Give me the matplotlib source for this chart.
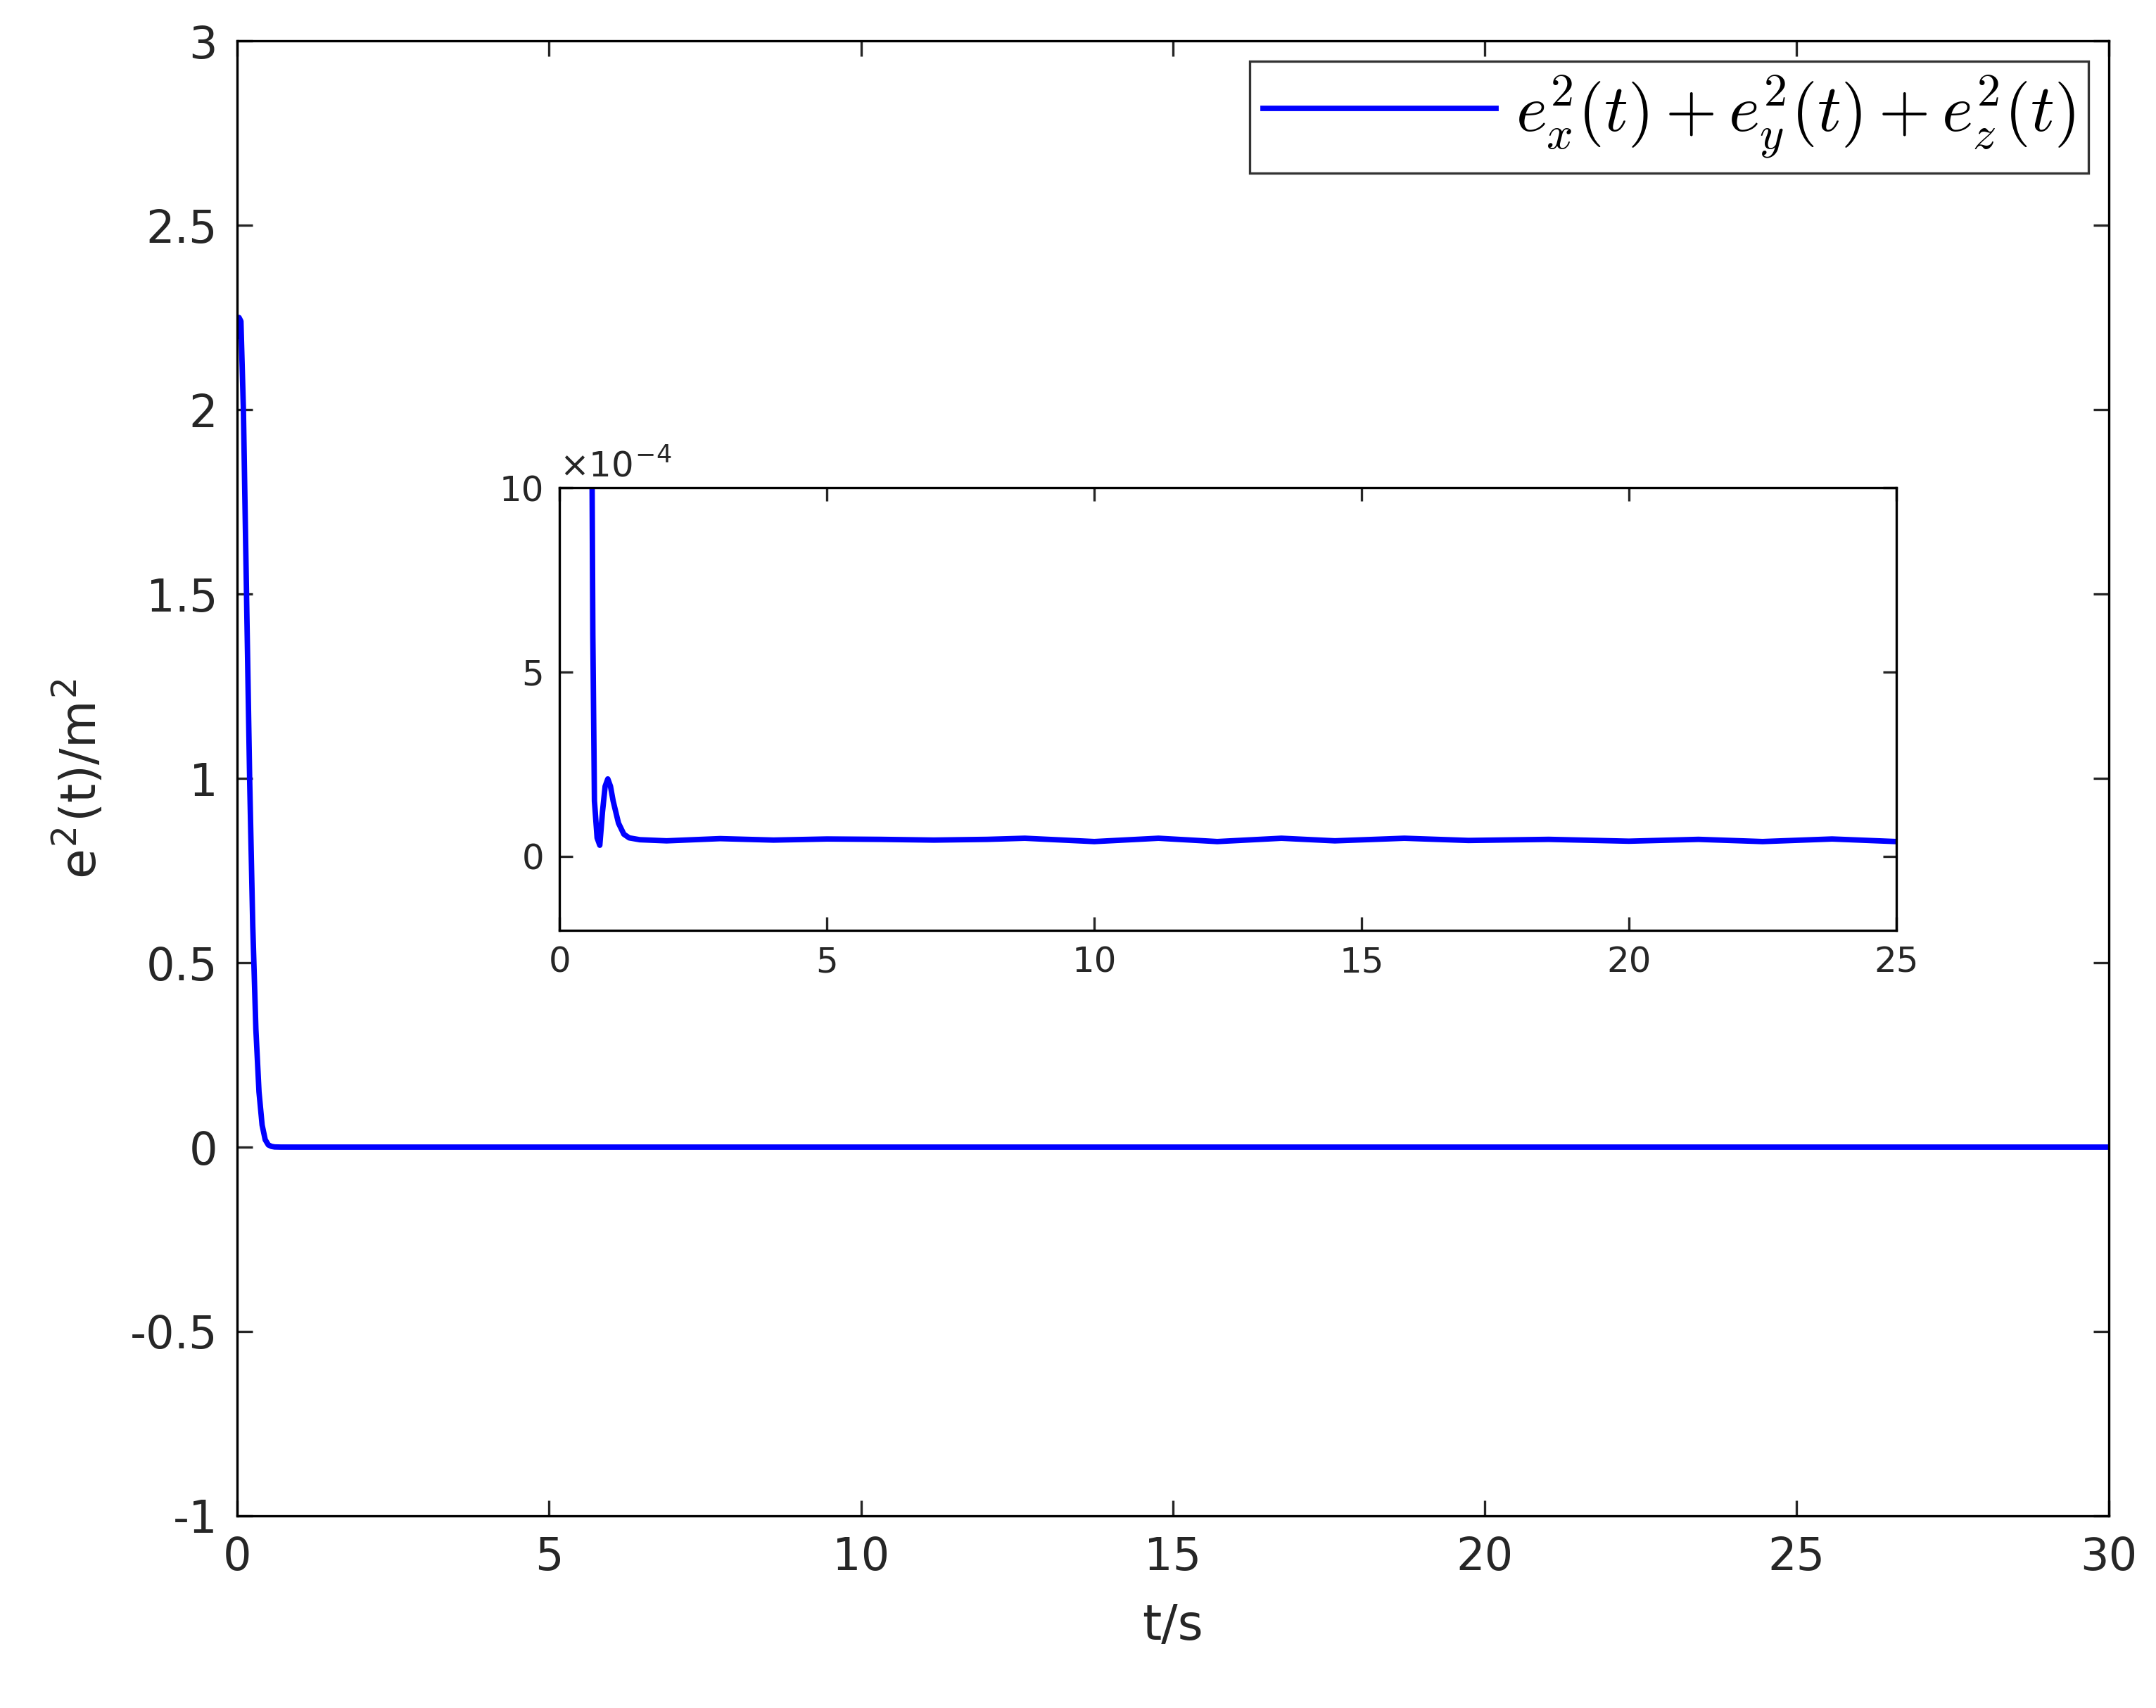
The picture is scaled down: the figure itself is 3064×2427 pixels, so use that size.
import numpy as np
import matplotlib
matplotlib.use("Agg")
import matplotlib.pyplot as plt

# main curve data
t_main = [0.0, 0.03, 0.06, 0.1, 0.15, 0.2, 0.25, 0.3, 0.35, 0.4, 0.45, 0.5, 0.55, 0.6, 0.7, 1.0, 5, 10, 15, 20, 25, 30]
e_main = [2.20, 2.25, 2.24, 2.0, 1.5, 1.0, 0.6, 0.32, 0.15, 0.06, 0.02, 0.006, 0.002, 0.0005, 0.0001, 0.00005, 0.00005, 0.00005, 0.00005, 0.00005, 0.00005, 0.00005]

# inset data (x1e-4)
t_in = [0.6, 0.62, 0.65, 0.7, 0.75, 0.8, 0.85, 0.9, 0.95, 1.0, 1.1, 1.2, 1.3, 1.5, 2.0, 3.0, 4.0, 5.0, 6.0, 7.0, 8.0, 8.7, 10.0, 11.2, 12.3, 13.5, 14.5, 15.8, 17.0, 18.5, 20.0, 21.3, 22.5, 23.8, 25.0]
e_in = [12.0, 6.0, 1.5, 0.5, 0.3, 1.2, 1.9, 2.1, 1.9, 1.5, 0.9, 0.6, 0.5, 0.45, 0.42, 0.48, 0.44, 0.47, 0.46, 0.44, 0.46, 0.49, 0.40, 0.49, 0.40, 0.49, 0.42, 0.49, 0.43, 0.46, 0.41, 0.46, 0.40, 0.47, 0.40]

BLUE = "#0000ff"
plt.rcParams["mathtext.fontset"] = "cm"
fig = plt.figure(figsize=(15.32, 12.135), dpi=200)
ax = fig.add_axes([0.110, 0.1125, 0.868, 0.8635])
ax.plot(t_main, e_main, color=BLUE, lw=2.8, label=r"$e_x^2(t)+e_y^2(t)+e_z^2(t)$")
ax.set_xlim(0, 30)
ax.set_ylim(-1, 3)
ax.set_xticks(np.arange(0, 31, 5))
ax.set_yticks([-1, -0.5, 0, 0.5, 1, 1.5, 2, 2.5, 3])
ax.set_yticklabels(["-1", "-0.5", "0", "0.5", "1", "1.5", "2", "2.5", "3"])
ax.tick_params(direction="in", top=True, right=True, labelsize=23, length=8, width=1.2, pad=10, colors="#262626", labelcolor="#262626")
for s in ax.spines.values():
    s.set_linewidth(1.2)
ax.set_xlabel("t/s", fontsize=25, color="#262626", labelpad=12)
ax.set_ylabel("e$^\\mathregular{2}$(t)/m$^\\mathregular{2}$", fontsize=25, color="#262626", labelpad=12)
leg = ax.legend(loc="upper right", fontsize=34, fancybox=False, edgecolor="black", handlelength=3.5, borderpad=0.2, handletextpad=0.3, borderaxespad=0.3)
leg.get_frame().set_linewidth(1.2)

ai = fig.add_axes([0.2596, 0.4555, 0.6199, 0.2589])
ai.plot(t_in, e_in, color=BLUE, lw=2.8)
ai.set_xlim(0, 25)
ai.set_ylim(-2, 10)
ai.set_xticks(np.arange(0, 26, 5))
ai.set_yticks([0, 5, 10])
ai.tick_params(direction="in", top=True, right=True, labelsize=18, length=7, width=1.2, pad=8, colors="#262626", labelcolor="#262626")
for s in ai.spines.values():
    s.set_linewidth(1.2)
ai.text(0.0, 1.01, "\u00d710$^\\mathregular{-4}$", transform=ai.transAxes, fontsize=18, color="#262626", va="bottom", ha="left")

fig.savefig("out.png", dpi=200)
